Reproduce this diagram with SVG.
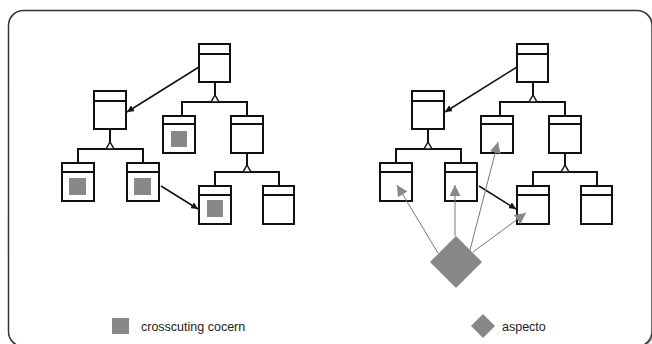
<svg xmlns="http://www.w3.org/2000/svg" width="652" height="344" viewBox="0 0 652 344">
<style>
.box{fill:#fff;stroke:#111;stroke-width:2}
.hd{stroke:#111;stroke-width:2}
.ln{fill:none;stroke:#111;stroke-width:2}
.tri{fill:#fff;stroke:#111;stroke-width:1.5}
.cc{fill:#888}
.blk{fill:none;stroke:#111;stroke-width:1.5;marker-end:url(#ab)}
.gry{fill:none;stroke:#777;stroke-width:1;marker-end:url(#ag)}
.lbl{font-family:"Liberation Sans",Arial,sans-serif;font-size:12.5px;fill:#222}
</style>
<defs>
<marker id="ab" viewBox="0 0 10 10" refX="10" refY="5" markerWidth="7" markerHeight="7" markerUnits="userSpaceOnUse" orient="auto"><path d="M0,0 L10,5 L0,10 z" fill="#111"/></marker>
<marker id="ag" viewBox="0 0 10 10" refX="10" refY="5" markerWidth="11" markerHeight="11" markerUnits="userSpaceOnUse" orient="auto"><path d="M0,0 L10,5 L0,10 z" fill="#888"/></marker>
</defs>
<rect x="9.5" y="11.5" width="643.5" height="336" rx="15" fill="none" stroke="#bbb" stroke-width="2"/>
<rect x="8.5" y="10.5" width="643.5" height="336" rx="15" fill="#fff" stroke="#333" stroke-width="1.5"/>

<g id="treeL">
<g id="L-root"><rect class="box" x="199" y="44" width="31" height="38"/><line class="hd" x1="199" y1="54" x2="230" y2="54"/></g>
<g id="L-A"><rect class="box" x="94" y="91" width="32" height="38"/><line class="hd" x1="94" y1="101" x2="126" y2="101"/></g>
<g id="L-B"><rect class="box" x="163" y="116" width="32" height="37"/><line class="hd" x1="163" y1="124" x2="195" y2="124"/><rect class="cc" x="171" y="131" width="16" height="16"/></g>
<g id="L-C"><rect class="box" x="231" y="116" width="32" height="37"/><line class="hd" x1="231" y1="124" x2="263" y2="124"/></g>
<g id="L-D"><rect class="box" x="62" y="163" width="32" height="38"/><line class="hd" x1="62" y1="172" x2="94" y2="172"/><rect class="cc" x="69" y="178" width="17" height="17"/></g>
<g id="L-E"><rect class="box" x="127" y="163" width="32" height="38"/><line class="hd" x1="127" y1="172" x2="159" y2="172"/><rect class="cc" x="134" y="178" width="17" height="17"/></g>
<g id="L-F"><rect class="box" x="199" y="186" width="32" height="38"/><line class="hd" x1="199" y1="195" x2="231" y2="195"/><rect class="cc" x="207" y="200" width="16" height="17"/></g>
<g id="L-G"><rect class="box" x="263" y="186" width="31" height="38"/><line class="hd" x1="263" y1="195" x2="294" y2="195"/></g>
</g>

<g id="treeR">
<g id="R-root"><rect class="box" x="517" y="44" width="31" height="38"/><line class="hd" x1="517" y1="54" x2="548" y2="54"/></g>
<g id="R-A"><rect class="box" x="412" y="91" width="32" height="38"/><line class="hd" x1="412" y1="101" x2="444" y2="101"/></g>
<g id="R-B"><rect class="box" x="481" y="116" width="32" height="37"/><line class="hd" x1="481" y1="124" x2="513" y2="124"/></g>
<g id="R-C"><rect class="box" x="549" y="116" width="32" height="37"/><line class="hd" x1="549" y1="124" x2="581" y2="124"/></g>
<g id="R-D"><rect class="box" x="380" y="163" width="32" height="38"/><line class="hd" x1="380" y1="172" x2="412" y2="172"/></g>
<g id="R-E"><rect class="box" x="445" y="163" width="32" height="38"/><line class="hd" x1="445" y1="172" x2="477" y2="172"/></g>
<g id="R-F"><rect class="box" x="517" y="186" width="32" height="38"/><line class="hd" x1="517" y1="195" x2="549" y2="195"/></g>
<g id="R-G"><rect class="box" x="581" y="186" width="31" height="38"/><line class="hd" x1="581" y1="195" x2="612" y2="195"/></g>
<g id="aspect"><polygon points="456,236 482,262 456,288 430,262" fill="#888"/></g>
</g>

<g id="connectors">
<path class="ln" d="M215,82 V95 M182,116 V102 H247 V116"/>
<polygon class="tri" points="215,95 211,102 219,102"/>
<path class="ln" d="M110,129 V142 M78,163 V149 H143 V163"/>
<polygon class="tri" points="110,142 106,149 114,149"/>
<path class="ln" d="M247,153 V165 M215,186 V172 H279 V186"/>
<polygon class="tri" points="247,165 243,172 251,172"/>
<line class="blk" x1="199" y1="67" x2="127" y2="112"/>
<line class="blk" x1="161" y1="186" x2="198" y2="209"/>
<path class="ln" d="M533,82 V95 M500,116 V102 H565 V116"/>
<polygon class="tri" points="533,95 529,102 537,102"/>
<path class="ln" d="M428,129 V142 M396,163 V149 H461 V163"/>
<polygon class="tri" points="428,142 424,149 432,149"/>
<path class="ln" d="M565,153 V165 M533,186 V172 H597 V186"/>
<polygon class="tri" points="565,165 561,172 569,172"/>
<line class="blk" x1="517" y1="67" x2="445" y2="112"/>
<line class="blk" x1="479" y1="186" x2="516" y2="209"/>
<line class="gry" x1="438" y1="253" x2="397" y2="185"/>
<line class="gry" x1="455" y1="236" x2="455" y2="185"/>
<line class="gry" x1="470" y1="250" x2="498" y2="142"/>
<line class="gry" x1="473" y1="252" x2="526" y2="213"/>
</g>

<g id="legend">
<rect class="cc" x="112" y="318" width="17" height="16"/>
<text class="lbl" x="141" y="331">crosscuting cocern</text>
<polygon points="483,314 495,326 483,338 471,326" fill="#888"/>
<text class="lbl" x="502" y="331">aspecto</text>
</g>
</svg>
